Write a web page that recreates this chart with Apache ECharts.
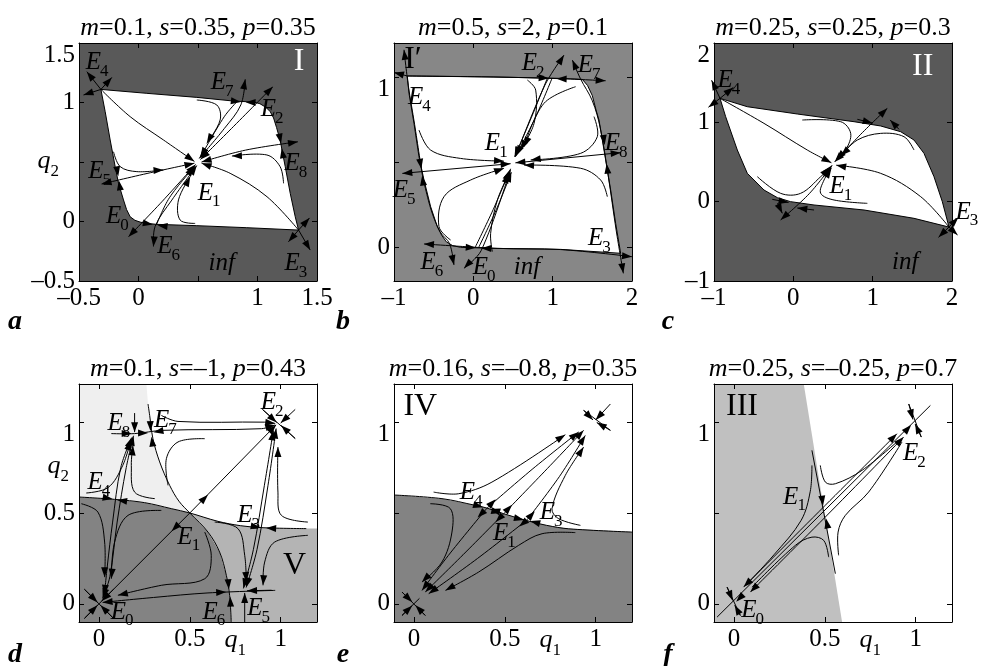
<!DOCTYPE html>
<html><head><meta charset="utf-8">
<script src="https://cdn.jsdelivr.net/npm/echarts@6/dist/echarts.min.js"></script>
<style>html,body{margin:0;padding:0;background:#fff}#c{width:982px;height:666px}</style>
</head><body><div id="c"></div>
<script>
const FONT = '"Liberation Serif","Times New Roman",serif';

// ---------- axes ----------
const xRanges = [[-0.5,1.5],[-1,2],[-1,2],[-0.11,1.2],[-0.11,1.2],[-0.11,1.2]];
const yRanges = [[-0.5,1.5],[-0.2,1.2],[-1,2],[-0.1,1.21],[-0.1,1.21],[-0.1,1.21]];
const xLabelVals = [[-0.5,0,1,1.5],[-1,0,1,2],[-1,0,1,2],[0,0.5,0.75,1],[0,0.5,0.75,1],[0,0.5,0.75,1]];
const yLabelVals = [[-0.5,0,0.48,1,1.5],[0,1],[-1,0,1,2],[0,0.5,0.74,1],[0,1],[0,1]];
const xTickVals = [[0,0.5,1],[0,1],[0,1],[0,0.5,1],[0,0.5,1],[0,0.5,1]];
const yTickVals = [[0,0.5,1],[0,0.5,1],[0,1],[0,0.5,1],[0,0.5,1],[0,0.5,1]];
const xSymbolVal = [null,null,null,0.75,0.75,0.75];
const ySymbolVal = [0.48,null,null,0.74,null,null];

// ---------- titles ----------
const titleM = ['0.1','0.5','0.25','0.1','0.16','0.25'];
const titleS = ['0.35','2','0.25','–1','–0.8','–0.25'];
const titleP = ['0.35','0.1','0.3','0.43','0.35','0.7'];
const panelLetters = ['a','b','c','d','e','f'];

// ---------- panel a ----------
const aWhite = [[-0.316,1.11],[0.07,1.077],[0.49,1.043],[0.8,1.012],[0.967,1.004],[1.02,0.99],[1.07,0.96],[1.107,0.923],[1.135,0.87],[1.16,0.79],[1.19,0.685],[1.233,0.461],[1.275,0.237],[1.317,0.04],[1.345,-0.072],[0.91,-0.052],[0.49,-0.035],[0.154,-0.024],[0.06,-0.015],[0.014,-0.005],[-0.03,0.01],[-0.07,0.04],[-0.1,0.1],[-0.126,0.181],[-0.168,0.321],[-0.196,0.461],[-0.238,0.685],[-0.28,0.923]];
const aCurves = [
 {p:[[-0.316,1.11],[-0.07,0.881],[0.21,0.685],[0.47,0.505]],a:'e'},
 {p:[[1.345,-0.072],[1.08,0.208],[0.77,0.405],[0.53,0.49]],a:'e'},
 {p:[[0.47,0.49],[0.1,0.41],[-0.31,0.315]],a:'b'},
 {p:[[0.53,0.5],[0.9,0.6],[1.34,0.67]],a:'b'},
 {p:[[0.48,0.48],[0.2,0.17],[-0.084,-0.128]],a:'b'},
 {p:[[0.52,0.52],[0.8,0.8],[1.129,1.133]],a:'b'},
 {p:[[0.51,0.53],[0.72,0.78],[0.86,0.98],[0.897,1.195]],a:'b'},
 {p:[[0.83,1.01],[0.72,0.88],[0.52,0.54]],a:'e'},
 {p:[[0.49,0.47],[0.28,0.18],[0.14,-0.04],[0.126,-0.21]],a:'b'},
 {p:[[0.15,-0.03],[0.26,0.2],[0.47,0.46]],a:'e'},
 {p:[[-0.21,0.586],[-0.154,0.461],[-0.014,0.419],[0.21,0.433]],a:'e'},
 {p:[[0.49,1.021],[0.658,0.979],[0.686,0.853],[0.574,0.657]],a:'e'},
 {p:[[1.219,0.321],[1.19,0.461],[1.079,0.559],[0.785,0.55]],a:'e'},
 {p:[[0.476,-0.016],[0.35,0.012],[0.336,0.181],[0.434,0.377]],a:'e'},
 {p:[[-0.316,1.11],[-0.434,1.259]],a:'e'},
 {p:[[-0.316,1.11],[-0.224,1.211]],a:'e'},
 {p:[[-0.316,1.11],[-0.462,1.063]],a:'e'},
 {p:[[1.345,-0.072],[1.437,0.03]],a:'e'},
 {p:[[1.345,-0.072],[1.443,-0.24]],a:'e'},
 {p:[[1.345,-0.072],[1.26,-0.17]],a:'e'}
];
const aArrows = [[0.78,1.015,0.86,1.005],[0.97,1.0,0.9,1.002],[1.185,0.72,1.198,0.655],[1.215,0.55,1.203,0.615],[-0.18,0.44,-0.17,0.38],[-0.155,0.28,-0.165,0.345],[0.06,-0.015,0.12,-0.025],[0.23,-0.04,0.16,-0.032]];
const aLabels = [[-0.34,1.34,'E4'],[0.71,1.17,'E7'],[1.13,0.94,'E2'],[1.33,0.49,'E8'],[-0.32,0.42,'E5'],[0.6,0.24,'E1'],[-0.17,0.04,'E0'],[0.26,-0.21,'E6'],[1.33,-0.35,'E3'],[0.7,-0.35,'inf'],[1.35,1.34,'I']];

// ---------- panel b ----------
const bWhite = [[-0.832,1.006],[0.26,1.0],[1.101,0.992],[1.374,0.986],[1.44,0.95],[1.5,0.89],[1.55,0.8],[1.584,0.747],[1.626,0.629],[1.668,0.512],[1.731,0.335],[1.794,0.139],[1.857,-0.037],[1.101,-0.014],[0.261,-0.008],[-0.16,-0.002],[-0.26,0.008],[-0.34,0.03],[-0.4,0.07],[-0.454,0.12],[-0.538,0.237],[-0.622,0.394],[-0.685,0.531],[-0.748,0.727],[-0.811,0.904]];
const bCurves = [
 {p:[[-0.832,1.006],[-1.0,1.027]],a:'e'},
 {p:[[-0.832,1.006],[0.26,1.0],[1.1,0.99],[1.668,0.978]],a:'e'},
 {p:[[-0.647,0.435],[-0.74,0.72],[-0.82,0.95],[-0.874,1.16]],a:'e'},
 {p:[[-0.647,0.435],[-0.54,0.23],[-0.42,0.09],[-0.3,0.02],[-0.244,-0.106]],a:'e'},
 {p:[[1.248,1.1],[1.35,0.99],[1.5,0.86],[1.6,0.7],[1.7,0.42],[1.8,0.1],[1.891,-0.155]],a:'b'},
 {p:[[-0.622,0.018],[0.3,-0.008],[1.1,-0.015],[2.0,-0.057]],a:'b'},
 {p:[[0.47,0.49],[-0.895,0.433]],a:'b'},
 {p:[[0.53,0.495],[1.857,0.555]],a:'b'},
 {p:[[0.47,0.46],[0.1,-0.02],[-0.118,-0.125]],a:'b'},
 {p:[[0.53,0.53],[0.9,0.95],[1.143,1.129]],a:'b'},
 {p:[[0.02,-0.005],[0.25,0.22],[0.46,0.45]],a:'e'},
 {p:[[0.07,0.0],[0.29,0.22],[0.48,0.44]],a:'e'},
 {p:[[0.93,0.99],[0.73,0.76],[0.52,0.53]],a:'e'},
 {p:[[0.99,0.99],[0.78,0.76],[0.54,0.54]],a:'e'},
 {p:[[-0.685,0.688],[-0.538,0.57],[-0.16,0.521],[0.387,0.505]],a:'e'},
 {p:[[0.681,0.982],[0.786,0.923],[0.765,0.727],[0.597,0.571]],a:'e'},
 {p:[[1.29,0.943],[0.89,0.845],[0.639,0.59]],a:'e'},
 {p:[[1.521,0.767],[1.563,0.649],[1.353,0.551],[0.723,0.512]],a:'e'},
 {p:[[1.689,0.296],[1.605,0.394],[1.353,0.463],[0.639,0.482]],a:'e'},
 {p:[[-0.286,0.041],[-0.433,0.12],[-0.37,0.296],[-0.034,0.394],[0.387,0.463]],a:'e'},
 {p:[[0.239,-0.027],[0.218,0.08],[0.303,0.276],[0.45,0.433]],a:'e'}
];
const bArrows = [[0.85,0.995,0.95,0.992],[1.2,0.988,1.05,0.99],[-0.05,-0.003,0.03,-0.005],[0.2,-0.008,0.1,-0.007],[-0.67,0.5,-0.655,0.46],[-0.63,0.37,-0.645,0.42],[1.64,0.65,1.655,0.6],[1.7,0.42,1.68,0.49]];
const bLabels = [[0.765,1.08,'E2'],[1.47,1.07,'E7'],[-0.67,0.88,'E4'],[0.3,0.61,'E1'],[1.81,0.61,'E8'],[-0.86,0.335,'E5'],[1.6,0.05,'E3'],[-0.51,-0.09,'E6'],[0.147,-0.12,'E0'],[0.676,-0.118,'inf'],[-0.76,1.1,'I′']];

// ---------- panel c ----------
const cWhite = [[-0.924,1.302],[-0.58,1.197],[0.05,1.105],[0.765,1.008],[1.101,0.954],[1.353,0.882],[1.521,0.777],[1.647,0.609],[1.773,0.315],[1.878,0.0],[1.962,-0.32],[1.521,-0.21],[0.891,-0.105],[0.261,-0.042],[-0.034,0.0],[-0.2,0.05],[-0.37,0.147],[-0.58,0.357],[-0.706,0.651],[-0.853,1.071]];
const cCurves = [
 {p:[[-0.924,1.302],[-0.37,0.987],[0.176,0.651],[0.48,0.49]],a:'e'},
 {p:[[1.962,-0.32],[1.605,0.063],[1.101,0.357],[0.54,0.46]],a:'e'},
 {p:[[0.49,0.46],[0.2,0.1],[-0.16,-0.231]],a:'b'},
 {p:[[0.52,0.5],[0.85,0.85],[1.185,1.177]],a:'b'},
 {p:[[0.113,1.029],[0.597,1.008],[0.723,0.861],[0.66,0.651],[0.54,0.53]],a:'e'},
 {p:[[1.521,0.651],[1.395,0.819],[1.101,0.861],[0.807,0.777],[0.6,0.58]],a:'e'},
 {p:[[-0.454,0.315],[-0.16,0.105],[0.092,0.105],[0.345,0.315],[0.46,0.43]],a:'e'},
 {p:[[0.933,-0.021],[0.513,0.021],[0.345,0.105],[0.387,0.273],[0.48,0.42]],a:'e'},
 {p:[[-0.924,1.302],[-1.03,1.53]],a:'e'},
 {p:[[-0.924,1.302],[-0.756,1.44]],a:'e'},
 {p:[[-0.924,1.302],[-1.07,1.19]],a:'e'},
 {p:[[1.962,-0.32],[1.83,-0.45]],a:'e'},
 {p:[[1.962,-0.32],[2.08,-0.2]],a:'e'},
 {p:[[1.962,-0.32],[2.07,-0.42]],a:'e'},
 {p:[[0.807,1.038],[1.0,0.99]],a:'e'},
 {p:[[1.332,0.912],[1.22,1.03]],a:'e'},
 {p:[[-0.265,0.029],[-0.06,-0.01]],a:'e'},
 {p:[[-0.2,-0.02],[-0.139,-0.147]],a:'e'},
 {p:[[0.261,-0.105],[0.05,-0.08]],a:'e'}
];
const cArrows = [];
const cLabels = [[-0.8,1.53,'E4'],[0.61,0.19,'E1'],[2.2,-0.13,'E3'],[1.41,-0.77,'inf'],[1.63,1.7,'II']];

// ---------- panel d ----------
const dE1 = [0.5,0.5];
const dVert = [[0.261,1.21],[0.27,1.1],[0.279,1.037],[0.297,0.909],[0.334,0.781],[0.389,0.652],[0.44,0.565],[0.5,0.5],[0.6,0.395],[0.664,0.285],[0.701,0.157],[0.719,0.047],[0.728,-0.1]];
const dHoriz = [[-0.11,0.588],[0.086,0.575],[0.251,0.557],[0.398,0.524],[0.5,0.5],[0.655,0.454],[0.78,0.43],[0.903,0.419],[1.141,0.414],[1.2,0.414]];
const dCurves = [
 {p:dVert.slice(1),a:''},
 {p:dHoriz.slice(0,-1),a:''},
 {p:[[0.5,0.5],[0.975,0.985]],a:'e'},
 {p:[[0.5,0.5],[0.015,0.015]],a:'e'},
 {p:[[0.19,0.925],[0.15,0.75],[0.1,0.45],[0.06,0.15],[0.02,0.03]],a:'b'},
 {p:[[0.18,0.915],[0.12,0.75],[0.075,0.45],[0.045,0.2],[0.03,0.05]],a:'b'},
 {p:[[-0.07,0.61],[0.05,0.64],[0.13,0.76],[0.175,0.9]],a:'e'},
 {p:[[0.81,0.09],[0.87,0.3],[0.93,0.65],[0.975,0.965]],a:'b'},
 {p:[[0.795,0.085],[0.85,0.3],[0.91,0.65],[0.96,0.955]],a:'b'},
 {p:[[0.068,0.937],[0.196,0.937],[0.352,0.955],[0.894,0.964],[0.97,0.985]],a:'e'},
 {p:[[0.343,1.037],[0.435,1.004],[0.912,1.0],[0.97,0.993]],a:'e'},
 {p:[[0.97,0.074],[0.6,0.06],[0.3,0.035],[0.02,0.008]],a:'e'},
 {p:[[0.38,0.652],[0.371,0.799],[0.435,0.891],[0.582,0.909]],a:''},
 {p:[[0.307,0.579],[0.196,0.615],[0.178,0.762],[0.187,0.872]],a:'e'},
 {p:[[1.15,0.45],[1.004,0.487],[0.985,0.615],[0.985,0.863]],a:'e'},
 {p:[[-0.097,0.551],[-0.006,0.505],[0.031,0.34],[0.031,0.147]],a:'e'},
 {p:[[0.343,0.514],[0.16,0.487],[0.086,0.34],[0.068,0.138]],a:'e'},
 {p:[[0.582,0.395],[0.618,0.267],[0.582,0.138],[0.343,0.102],[0.104,0.047]],a:'e'},
 {p:[[1.15,0.377],[0.967,0.34],[0.912,0.23],[0.903,0.102]],a:'e'},
 {p:[[0.637,0.45],[0.765,0.414],[0.802,0.267],[0.811,0.12]],a:'e'},
 {p:[[0.9,1.07],[1.08,0.91]],a:''},
 {p:[[0.9,1.07],[0.978,0.998]],a:'e'},
 {p:[[1.08,1.07],[1.0,0.995]],a:'e'},
 {p:[[1.08,0.91],[1.003,0.982]],a:'e'},
 {p:[[-0.08,-0.08],[0.08,0.08]],a:''},
 {p:[[-0.08,0.08],[0.08,-0.08]],a:''},
 {p:[[-0.08,-0.08],[-0.008,-0.008]],a:'e'},
 {p:[[-0.08,0.08],[-0.008,0.008]],a:'e'},
 {p:[[0.08,-0.08],[0.008,-0.008]],a:'e'},
 {p:[[0.196,1.05],[0.196,0.945]],a:'e'},
 {p:[[0.802,-0.1],[0.802,0.06]],a:'e'},
 {p:[[0.95,0.075],[0.815,0.072]],a:'e'}
];
const dArrows = [[0.07,0.937,0.18,0.937],[0.03,0.585,0.075,0.577],[0.14,0.566,0.1,0.572],[0.86,0.425,0.89,0.42],[0.96,0.416,0.92,0.418],[0.28,1.06,0.284,0.95],[0.3,0.84,0.289,0.92],[0.705,0.2,0.715,0.08],[0.728,-0.09,0.722,0.04],[0.25,0.94,0.27,0.94],[0.36,0.955,0.3,0.945],[0.5,0.5,0.6,0.6],[0.5,0.5,0.4,0.4],[0.6,0.06,0.7,0.065]];
const dLabels = [[0.958,1.11,'E2'],[0.114,0.991,'E8'],[0.37,1.01,'E7'],[0.004,0.67,'E4'],[0.829,0.487,'E3'],[0.499,0.368,'E1'],[1.077,0.212,'V'],[0.637,-0.045,'E6'],[0.884,-0.027,'E5'],[0.132,-0.045,'E0']];

// ---------- panel e ----------
const eSep = [[-0.11,0.599],[0.154,0.579],[0.338,0.542],[0.402,0.527],[0.494,0.496],[0.622,0.458],[0.73,0.432],[0.852,0.413],[1.2,0.395]];
const eCurves = [
 {p:eSep,a:''},
 {p:[[0.402,0.527],[0.65,0.74],[0.907,0.946]],a:'e'},
 {p:[[0.402,0.527],[0.2,0.28],[0.044,0.074]],a:'e'},
 {p:[[0.494,0.496],[0.72,0.73],[0.934,0.955]],a:'e'},
 {p:[[0.494,0.496],[0.27,0.27],[0.062,0.065]],a:'e'},
 {p:[[0.622,0.462],[0.8,0.7],[0.943,0.927]],a:'e'},
 {p:[[0.622,0.462],[0.35,0.25],[0.081,0.056]],a:'e'},
 {p:[[0.108,0.615],[0.246,0.606],[0.429,0.67],[0.833,0.931]],a:'e'},
 {p:[[0.916,0.432],[0.796,0.469],[0.76,0.524],[0.833,0.707],[0.934,0.863]],a:'e'},
 {p:[[0.09,0.551],[0.2,0.524],[0.209,0.395],[0.154,0.23],[0.044,0.12]],a:'e'},
 {p:[[0.888,0.392],[0.705,0.386],[0.576,0.322],[0.356,0.175],[0.173,0.074]],a:'e'},
 {p:[[0.934,1.065],[1.081,0.955]],a:''},
 {p:[[0.934,1.065],[0.985,1.012]],a:'e'},
 {p:[[1.081,0.955],[1.006,0.998]],a:'e'},
 {p:[[1.081,1.1],[1.0,1.012]],a:'e'},
 {p:[[-0.066,0.065],[0.062,-0.064]],a:''},
 {p:[[-0.066,-0.064],[0.03,0.03]],a:''},
 {p:[[-0.066,0.065],[-0.01,0.01]],a:'e'},
 {p:[[0.062,-0.064],[0.008,-0.008]],a:'e'},
 {p:[[-0.066,-0.064],[-0.01,-0.01]],a:'e'}
];
const eArrows = [[0.402,0.527,0.35,0.475],[0.402,0.527,0.45,0.575],[0.494,0.496,0.45,0.45],[0.494,0.496,0.54,0.545],[0.622,0.462,0.58,0.425],[0.622,0.462,0.665,0.51],[0.33,0.545,0.38,0.532],[0.47,0.507,0.42,0.522],[0.44,0.51,0.48,0.5],[0.68,0.445,0.64,0.456],[0.57,0.47,0.605,0.462]];
const eLabels = [[0.035,1.083,'IV'],[0.319,0.615,'E4'],[0.503,0.386,'E1'],[0.76,0.505,'E3']];

// ---------- panel f ----------
const fBound = [[0.384,1.21],[0.595,-0.1]];
const fCurves = [
 {p:[[0.429,0.845],[0.558,0.166]],a:''},
 {p:[[-0.093,-0.073],[1.081,1.092]],a:''},
 {p:[[0.053,0.092],[0.5,0.54],[0.897,0.936]],a:'b'},
 {p:[[0.09,0.065],[0.5,0.475],[0.934,0.918]],a:'b'},
 {p:[[0.429,0.762],[0.42,0.62],[0.37,0.46],[0.22,0.27],[0.062,0.1]],a:''},
 {p:[[0.521,0.257],[0.494,0.349],[0.429,0.367],[0.338,0.322],[0.099,0.092]],a:''},
 {p:[[0.475,0.762],[0.503,0.67],[0.558,0.661],[0.705,0.735],[0.907,0.9]],a:''},
 {p:[[0.576,0.267],[0.573,0.395],[0.613,0.487],[0.741,0.615],[0.925,0.891]],a:''},
 {p:[[0.962,1.1],[1.031,0.918]],a:''},
 {p:[[0.962,1.1],[0.985,1.015]],a:'e'},
 {p:[[1.031,0.918],[0.997,0.99]],a:'e'},
 {p:[[-0.038,0.092],[0.035,-0.064]],a:''},
 {p:[[-0.038,0.092],[-0.007,0.019]],a:'e'},
 {p:[[0.035,-0.064],[0.004,-0.008]],a:'e'}
];
const fArrows = [[0.48,0.62,0.49,0.54],[0.52,0.4,0.507,0.47],[0.93,0.935,0.975,0.985],[0.06,0.06,0.012,0.012]];
const fLabels = [[0.044,1.083,'III'],[0.338,0.588,'E1'],[0.998,0.826,'E2'],[0.108,-0.036,'E0']];

// ---------- build ----------
const gridLeft = [79,394,714,79,394,714];
const gridTop = [43,43,43,384,384,384];
const BOX = 238;
const letterX = [15,343,668,15,343,668];
const letterY = [322,322,322,655,655,655];
const ySymbolGap = [16,0,0,6,0,0];

function rectOf(i){const x=xRanges[i],y=yRanges[i];return [[x[0],y[0]],[x[1],y[0]],[x[1],y[1]],[x[0],y[1]]];}
const vi = dVert.findIndex(p=>p[0]===dE1[0]&&p[1]===dE1[1]);
const hi = dHoriz.findIndex(p=>p[0]===dE1[0]&&p[1]===dE1[1]);
const dLight = [[xRanges[3][0],yRanges[3][1]]].concat(dVert.slice(0,vi+1), dHoriz.slice(0,hi).reverse());
const dDark = dHoriz.slice(0,hi+1).concat(dVert.slice(vi+1), [[xRanges[3][0],yRanges[3][0]]]);
const dMid = dHoriz.slice(hi).concat([[xRanges[3][1],yRanges[3][0]]], dVert.slice(vi).reverse());
const eDark = eSep.concat([[xRanges[4][1],yRanges[4][0]],[xRanges[4][0],yRanges[4][0]]]);
const fLight = [[xRanges[5][0],yRanges[5][1]]].concat(fBound,[[xRanges[5][0],yRanges[5][0]]]);

const regions = [
 [{fill:'#595959',pts:rectOf(0)},{fill:'#ffffff',stroke:'#000',pts:aWhite}],
 [{fill:'#878787',pts:rectOf(1)},{fill:'#ffffff',stroke:'#000',pts:bWhite}],
 [{fill:'#595959',pts:rectOf(2)},{fill:'#ffffff',stroke:'#000',pts:cWhite}],
 [{fill:'#efefef',pts:dLight},{fill:'#838383',pts:dDark},{fill:'#b4b4b4',pts:dMid}],
 [{fill:'#838383',pts:eDark}],
 [{fill:'#c0c0c0',pts:fLight}]
];
const curves = [aCurves,bCurves,cCurves,dCurves,eCurves,fCurves];
const arrows = [aArrows,bArrows,cArrows,dArrows,eArrows,fArrows];
const labels = [aLabels,bLabels,cLabels,dLabels,eLabels,fLabels];

function head(tip, from){
  const dx=tip[0]-from[0], dy=tip[1]-from[1]; const L=Math.hypot(dx,dy)||1;
  const ux=dx/L, uy=dy/L, len=10, w=3.5;
  const bx=tip[0]-ux*len, by=tip[1]-uy*len;
  return {type:'polygon',shape:{points:[tip,[bx-uy*w,by+ux*w],[bx+uy*w,by-ux*w]]},style:{fill:'#000',stroke:'none'}};
}
function fmtNum(v){return v<0?'–'+Math.abs(v):String(v);}
function subRich(gap){
  return {
    q:{fontFamily:FONT,fontStyle:'italic',fontSize:26,lineHeight:26,verticalAlign:'top',color:'#000'},
    s:{fontFamily:FONT,fontSize:17,lineHeight:32,verticalAlign:'bottom',color:'#000'},
    g:{width:gap,fontSize:10}
  };
}

const grid=[],xAxis=[],yAxis=[],series=[],graphic=[];
for(let i=0;i<6;i++){
  grid.push({left:gridLeft[i],top:gridTop[i],width:BOX,height:BOX,show:false,containLabel:false,outerBoundsMode:'none'});
  const lineS={show:true,onZero:false,lineStyle:{color:'#000',width:1}};
  const xs=xSymbolVal[i], ys=ySymbolVal[i], gap=ySymbolGap[i];
  const base={type:'value',gridIndex:i,z:10,splitLine:{show:false},axisLine:lineS};
  xAxis.push(Object.assign({},base,{position:'bottom',min:xRanges[i][0],max:xRanges[i][1],
    axisTick:{show:true,inside:true,length:5,customValues:xTickVals[i],lineStyle:{color:'#000'}},
    axisLabel:{show:true,customValues:xLabelVals[i],margin:5,color:'#000',fontFamily:FONT,fontSize:25,rich:subRich(0),
      formatter:v=>(xs!==null&&Math.abs(v-xs)<1e-9)?'{q|q}{s|1}':fmtNum(v)}}));
  xAxis.push(Object.assign({},base,{position:'top',min:xRanges[i][0],max:xRanges[i][1],
    axisTick:{show:true,inside:true,length:5,customValues:xTickVals[i],lineStyle:{color:'#000'}},axisLabel:{show:false}}));
  yAxis.push(Object.assign({},base,{position:'left',min:yRanges[i][0],max:yRanges[i][1],
    axisTick:{show:true,inside:true,length:5,customValues:yTickVals[i],lineStyle:{color:'#000'}},
    axisLabel:{show:true,customValues:yLabelVals[i],margin:4,color:'#000',fontFamily:FONT,fontSize:25,rich:subRich(gap),
      verticalAlignMaxLabel:'top',
      formatter:v=>(ys!==null&&Math.abs(v-ys)<1e-9)?('{q|q}{s|2}'+(gap?'{g| }':'')):fmtNum(v)}}));
  yAxis.push(Object.assign({},base,{position:'right',min:yRanges[i][0],max:yRanges[i][1],
    axisTick:{show:true,inside:true,length:5,customValues:yTickVals[i],lineStyle:{color:'#000'}},axisLabel:{show:false}}));

  const dummy = arr=>arr.map(()=>[xRanges[i][0],yRanges[i][0]]);
  const regs=regions[i], crv=curves[i], arw=arrows[i], lbl=labels[i];
  series.push({type:'custom',coordinateSystem:'cartesian2d',xAxisIndex:2*i,yAxisIndex:2*i,silent:true,z:1,
    data:dummy(regs),renderItem:(p,api)=>{const r=regs[p.dataIndex];
      return {type:'polygon',shape:{points:r.pts.map(q=>api.coord(q))},style:{fill:r.fill,stroke:r.stroke||'none',lineWidth:1}};}});
  series.push({type:'custom',coordinateSystem:'cartesian2d',xAxisIndex:2*i,yAxisIndex:2*i,silent:true,z:2,
    data:dummy(crv),renderItem:(p,api)=>{const c=crv[p.dataIndex];const pts=c.p.map(q=>api.coord(q));const n=pts.length;
      const ch=[{type:'polyline',shape:{points:pts,smooth:n>2?0.35:0},style:{stroke:'#000',lineWidth:1,fill:'none'}}];
      if(c.a==='e'||c.a==='b') ch.push(head(pts[n-1],pts[n-2]));
      if(c.a==='s'||c.a==='b') ch.push(head(pts[0],pts[1]));
      return {type:'group',children:ch};}});
  if(arw.length) series.push({type:'custom',coordinateSystem:'cartesian2d',xAxisIndex:2*i,yAxisIndex:2*i,silent:true,z:2,
    data:dummy(arw),renderItem:(p,api)=>{const a=arw[p.dataIndex];return head(api.coord([a[2],a[3]]),api.coord([a[0],a[1]]));}});
  series.push({type:'custom',coordinateSystem:'cartesian2d',xAxisIndex:2*i,yAxisIndex:2*i,silent:true,z:3,
    data:dummy(lbl),renderItem:(p,api)=>{const l=lbl[p.dataIndex];const pt=api.coord([l[0],l[1]]);const t=l[2];
      if(/^E\d$/.test(t)){
        return {type:'group',children:[
          {type:'text',x:pt[0]+3,y:pt[1],style:{text:'E',align:'right',verticalAlign:'middle',fontFamily:FONT,fontStyle:'italic',fontSize:25,fill:'#000'}},
          {type:'text',x:pt[0]+2,y:pt[1]+9,style:{text:t.slice(1),align:'left',verticalAlign:'middle',fontFamily:FONT,fontSize:17,fill:'#000'}}
        ]};
      }
      if(t==='inf') return {type:'text',x:pt[0],y:pt[1],style:{text:'inf',align:'center',verticalAlign:'middle',fontFamily:FONT,fontStyle:'italic',fontSize:25,fill:'#000'}};
      return {type:'text',x:pt[0],y:pt[1],style:{text:t,align:'center',verticalAlign:'middle',fontFamily:FONT,fontSize:32,fill:(i===0||i===2)?'#fff':'#000'}};
    }});

  const cx=gridLeft[i]+BOX/2, ty=gridTop[i]-15;
  graphic.push({type:'text',x:cx,y:ty,z:20,style:{text:'{i|m}{n|='+titleM[i]+', }{i|s}{n|='+titleS[i]+', }{i|p}{n|='+titleP[i]+'}',
    align:'center',verticalAlign:'middle',rich:{i:{fontFamily:FONT,fontStyle:'italic',fontSize:26,fill:'#000'},n:{fontFamily:FONT,fontSize:26,fill:'#000'}}}});
  graphic.push({type:'text',x:letterX[i],y:letterY[i],z:20,style:{text:panelLetters[i],align:'center',verticalAlign:'middle',
    fontFamily:FONT,fontStyle:'italic',fontWeight:'bold',fontSize:28,fill:'#000'}});
}

const chart=echarts.init(document.getElementById('c'),null,{renderer:'canvas'});
chart.setOption({animation:false,backgroundColor:'#fff',grid,xAxis,yAxis,series,graphic});
</script></body></html>
